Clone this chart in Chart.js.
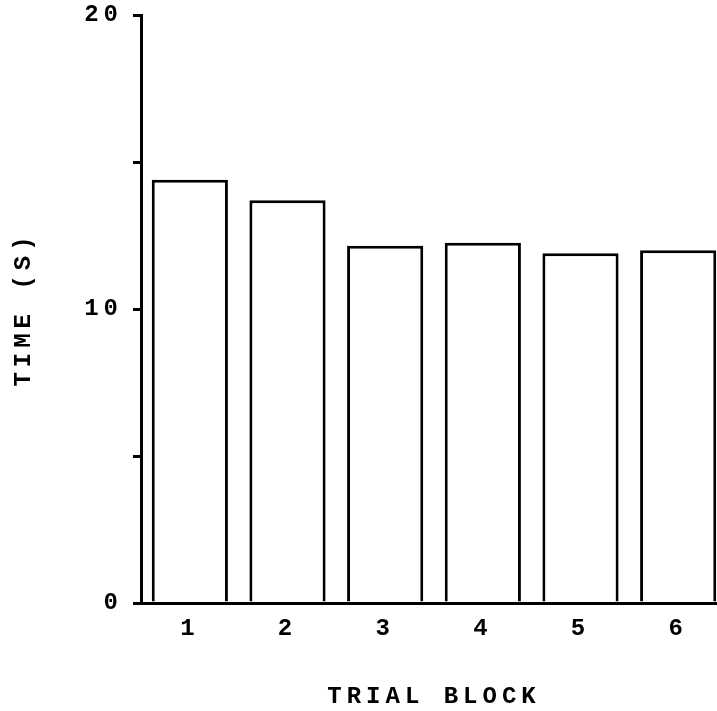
<!DOCTYPE html>
<html>
<head>
<meta charset="utf-8">
<script src="https://cdn.jsdelivr.net/npm/chart.js@4/dist/chart.umd.min.js"></script>
<style>
    html, body { margin: 0; padding: 0; background: #fff; overflow: hidden; }
    #wrap { width: 728px; height: 711px; position: relative; }
</style>
</head>
<body>
<div id="wrap"><canvas id="chart"></canvas></div>
<script>
const blocks = ["1", "2", "3", "4", "5", "6"];
const times = [14.4, 13.7, 12.15, 12.25, 11.9, 12.0];
const yLabelled = [0, 10, 20];

const ink = "#000";
const font = { family: "'Liberation Mono', 'Courier New', monospace", weight: "bold", size: 24 };

/* typewriter look: widen letter spacing on every text draw */
const spacing = {
    id: "spacing",
    beforeDraw(chart) { chart.ctx.letterSpacing = "5px"; }
};

new Chart(document.getElementById("chart"), {
    type: "bar",
    data: {
        labels: blocks,
        datasets: [{
            data: times,
            backgroundColor: "#fff",
            borderColor: ink,
            borderWidth: 3,
            borderSkipped: "bottom",
            barPercentage: 0.78,
            categoryPercentage: 1
        }]
    },
    options: {
        responsive: true,
        maintainAspectRatio: false,
        animation: false,
        layout: { padding: { top: 0, right: 1, left: 0, bottom: 0 } },
        plugins: {
            legend: { display: false },
            tooltip: { enabled: false }
        },
        scales: {
            x: {
                grid: { display: false, drawTicks: false },
                border: { color: ink, width: 3 },
                ticks: { color: ink, font: font, padding: 12 },
                title: {
                    display: true,
                    text: "TRIAL BLOCK",
                    color: ink,
                    font: font,
                    padding: { top: 0, bottom: 0 }
                },
                afterFit(scale) { scale.height = 108; }
            },
            y: {
                min: 0,
                max: 20,
                grid: { drawOnChartArea: false, color: ink, lineWidth: 3, tickLength: 8 },
                border: { color: ink, width: 3 },
                ticks: {
                    stepSize: 5,
                    color: ink,
                    font: font,
                    padding: 10,
                    callback: v => yLabelled.includes(v) ? v : ""
                },
                title: {
                    display: true,
                    text: "TIME (S)",
                    color: ink,
                    font: font,
                    padding: { top: 10, bottom: 0 }
                },
                afterFit(scale) {
                    scale.width = 141;
                    scale.paddingTop = 15;
                    scale.paddingBottom = 0;
                }
            }
        }
    },
    plugins: [spacing]
});
</script>
</body>
</html>
